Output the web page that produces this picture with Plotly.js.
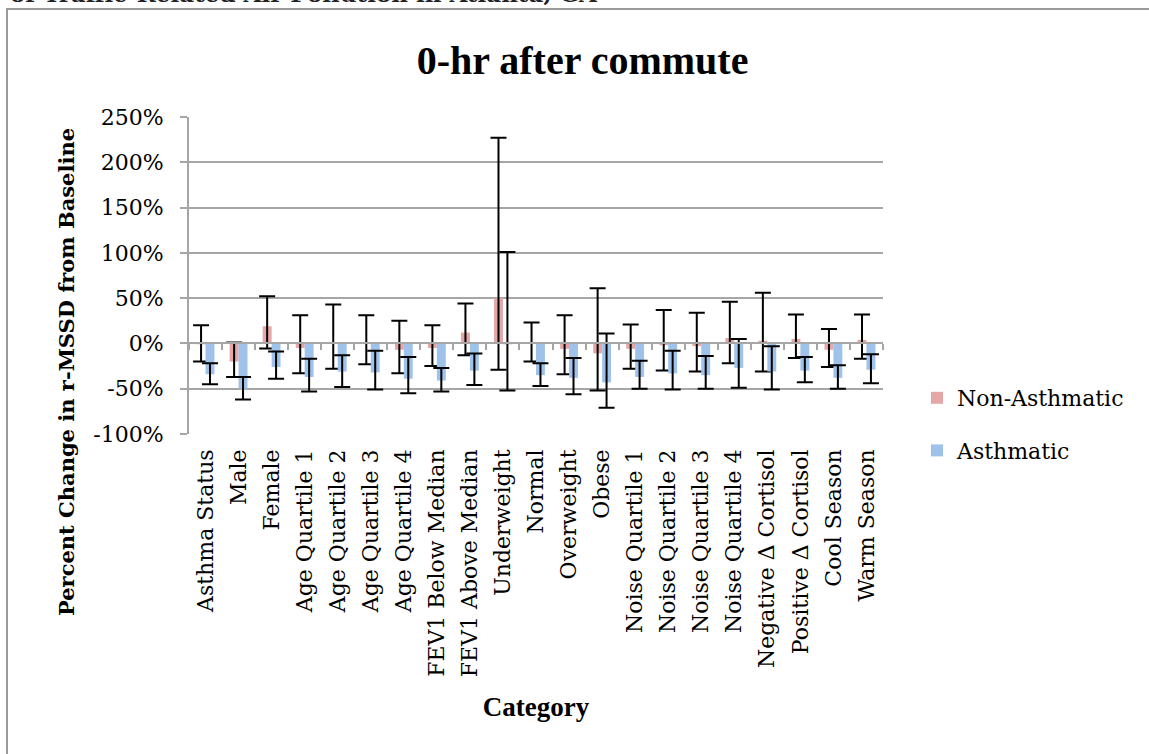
<!DOCTYPE html>
<html>
<head>
<meta charset="utf-8">
<script src="https://cdn.plot.ly/plotly-3.0.1.min.js"></script>
<style>
html,body{margin:0;padding:0;background:#fff;}
#chart{width:1149px;height:754px;}
</style>
</head>
<body>
<div id="chart"></div>
<script>
// ---- data ----
const categories = ["Asthma Status","Male","Female","Age Quartile 1","Age Quartile 2","Age Quartile 3","Age Quartile 4","FEV1 Below Median","FEV1 Above Median","Underweight","Normal","Overweight","Obese","Noise Quartile 1","Noise Quartile 2","Noise Quartile 3","Noise Quartile 4","Negative \u0394 Cortisol","Positive \u0394 Cortisol","Cool Season","Warm Season"];

const nonAsthmatic      = [-1, -20, 19, -5, 1, 0, -7, -5, 12, 50, 0.5, -6, -11, -6, -2, -3, 6, 3, 5, -7, 4];
const nonAsthmaticUpper = [20, 1, 52, 31, 43, 31, 25, 20, 44, 227, 23, 31, 61, 21, 37, 34, 46, 56, 32, 16, 32];
const nonAsthmaticLower = [-20, -37, -5.5, -33, -28, -23, -33, -25, -13, -29, -20, -34, -52, -28, -30, -31, -22, -31, -16, -26, -17];

const asthmatic      = [-34, -50, -26, -37, -31, -32, -39, -41, -30, -1, -35, -38, -43, -37, -33, -35, -27, -31, -30, -38, -29];
const asthmaticUpper = [-22, -37, -9, -17, -13, -8, -15, -27, -11, 101, -22, -16, 11, -19, -8, -14, 5, -3, -15, -24, -12];
const asthmaticLower = [-45, -62, -39, -53, -48, -51, -55, -53, -46, -52, -47, -56, -71, -50, -51, -50, -49, -51, -43, -50, -44];

const yTickVals  = [-100, -50, 0, 50, 100, 150, 200, 250];
const yTickText  = ["-100%", "-50%", "0%", "50%", "100%", "150%", "200%", "250%"];

const seriesNames = ["Non-Asthmatic", "Asthmatic"];
const titleText = "0-hr after commute";
const yTitleText = "Percent Change in r-MSSD from Baseline";
const xTitleText = "Category";
const headerText = "of Traffic-Related Air Pollution in Atlanta, GA";

// ---- build ----
const plus  = (v, u) => u.map((x, i) => x - v[i]);
const minus = (v, l) => l.map((x, i) => v[i] - x);

const errStyle = {type: 'data', symmetric: false, color: '#000000', thickness: 2, width: 8};

const traces = [
  {
    type: 'bar', name: seriesNames[0], x: categories, y: nonAsthmatic,
    marker: {color: '#e4a7a6'}, legendgroup: 'a',
    error_y: Object.assign({array: plus(nonAsthmatic, nonAsthmaticUpper), arrayminus: minus(nonAsthmatic, nonAsthmaticLower)}, errStyle),
    hoverinfo: 'skip'
  },
  {
    type: 'bar', name: seriesNames[1], x: categories, y: asthmatic,
    marker: {color: '#9fc2ea'}, legendgroup: 'b',
    error_y: Object.assign({array: plus(asthmatic, asthmaticUpper), arrayminus: minus(asthmatic, asthmaticLower)}, errStyle),
    hoverinfo: 'skip'
  },
  // helper so the category-axis at 0% (line + boundary ticks) gets drawn
  {type: 'scatter', x: [0], y: [0], xaxis: 'x2', yaxis: 'y', mode: 'none', showlegend: false, hoverinfo: 'skip'}
];

const boundaryTicks = categories.map((c, i) => i - 0.5).concat([categories.length - 0.5]);
const yMin = -100, yMax = 250;

// plot-area pixel geometry helpers (paper coords)
const L = 189, R = 883, T = 117, B = 434;
const px = x => (x - L) / (R - L);
const py = y => (B - y) / (B - T);

const serif = 'DejaVu Serif, serif';
const layout = {
  width: 1149, height: 754,
  margin: {l: L, r: 1149 - R, t: T, b: 754 - B},
  paper_bgcolor: '#ffffff', plot_bgcolor: '#ffffff',
  barmode: 'group', bargap: 0.46, bargroupgap: 0,
  showlegend: true,
  title: {
    text: '<b>' + titleText + '</b>',
    font: {family: 'Liberation Serif, serif', size: 40, color: '#000000'},
    x: 0.507, xref: 'container', xanchor: 'center',
    y: 0.92, yref: 'container', yanchor: 'middle'
  },
  xaxis: {
    type: 'category', categoryarray: categories, categoryorder: 'array',
    range: [-0.5, categories.length - 0.5],
    showline: false, showgrid: false, zeroline: false, ticks: '',
    tickangle: -90, tickfont: {family: serif, size: 22, color: '#000000'},
    ticklabelstandoff: 10,
    title: {text: '<b>' + xTitleText + '</b>', font: {family: 'Liberation Serif, serif', size: 27, color: '#000000'}, standoff: 20}
  },
  xaxis2: {
    overlaying: 'x', anchor: 'free', position: (0 - yMin) / (yMax - yMin),
    range: [-0.5, categories.length - 0.5],
    tickmode: 'array', tickvals: boundaryTicks, showticklabels: false,
    ticks: 'outside', ticklen: 6, tickwidth: 2, tickcolor: '#a6a6a6',
    showline: true, linecolor: '#a6a6a6', linewidth: 2,
    showgrid: false, zeroline: false, layer: 'above traces'
  },
  yaxis: {
    range: [yMin, yMax], tickmode: 'array', tickvals: yTickVals, ticktext: yTickText,
    showgrid: true, gridcolor: '#a6a6a6', gridwidth: 2,
    zeroline: false, showline: true, linecolor: '#a6a6a6', linewidth: 2,
    ticks: 'outside', ticklen: 7, tickwidth: 2, tickcolor: '#a6a6a6',
    tickfont: {family: serif, size: 22, color: '#000000'},
    ticklabelstandoff: 12
  },
  legend: {
    x: px(917), xanchor: 'left', y: py(377), yanchor: 'top',
    font: {family: serif, size: 22, color: '#000000'},
    traceorder: 'grouped', tracegroupgap: 21,
    bgcolor: 'rgba(0,0,0,0)'
  },
  shapes: [
    {type: 'rect', xref: 'paper', yref: 'paper', x0: px(7), x1: 2, y0: -2, y1: py(9),
     line: {color: '#9a9a9a', width: 2}, fillcolor: 'rgba(0,0,0,0)', layer: 'below'}
  ],
  annotations: [
    {text: '<b>' + headerText + '</b>', xref: 'paper', yref: 'paper',
     x: px(8), xanchor: 'left', y: py(9), yanchor: 'bottom',
     showarrow: false, font: {family: serif, size: 23, color: '#222222'}},
    {text: '<b>' + yTitleText + '</b>', xref: 'paper', yref: 'paper',
     x: px(66), xanchor: 'center', y: py(372), yanchor: 'middle', textangle: -90,
     showarrow: false, font: {family: serif, size: 21, color: '#000000'}}
  ]
};

Plotly.newPlot('chart', traces, layout, {staticPlot: true, displayModeBar: false});
</script>
</body>
</html>
